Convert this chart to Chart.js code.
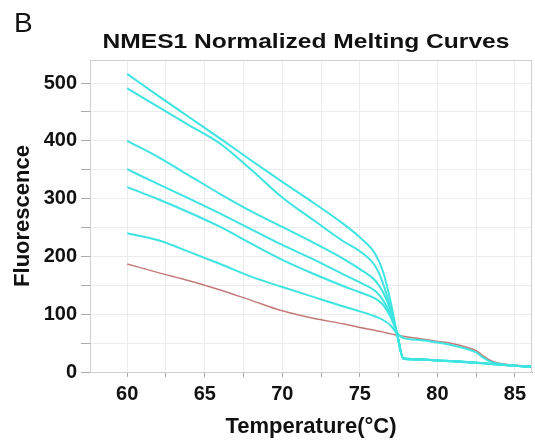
<!DOCTYPE html>
<html>
<head>
<meta charset="utf-8">
<script src="https://cdn.jsdelivr.net/npm/chart.js@4"></script>
<style>
  html, body { margin: 0; padding: 0; background: #fff; }
  #wrap { position: relative; width: 535px; height: 444px; }
  #panel { position: absolute; left: 14px; top: 7px; font: 28px "Liberation Sans", Arial, sans-serif; color: #111; }
  #title { position: absolute; left: 100px; top: 29px; width: 412px; text-align: center;
           font: bold 21px "Liberation Sans", Arial, sans-serif; color: #111; white-space: nowrap;
           transform: scaleX(1.17); transform-origin: 50% 50%; }
</style>
</head>
<body>
<div id="wrap">
  <div id="panel">B</div>
  <div id="title">NMES1 Normalized Melting Curves</div>
  <canvas id="chart" width="535" height="444"></canvas>
</div>
<script>
// temperatures (°C) shared by all curves
const temps = [60, 62, 64, 66, 68, 70, 72, 74, 75, 76, 76.5, 77, 77.4, 77.8, 79, 80, 81, 82, 82.5, 83, 83.5, 84, 85, 86.1];

// normalized fluorescence
const curve1 = [516, 478, 441, 404, 366, 329, 293, 255, 233, 204, 173, 120, 66, 24, 22, 20, 19, 17, 16, 15, 14, 13, 11, 9];
const curve2 = [491, 459, 427, 395, 350, 302, 263, 225, 209, 183, 153, 108, 66, 24, 22, 20, 19, 17, 16, 15, 14, 13, 11, 9];
const curve3 = [400, 372, 340, 308, 278, 251, 224, 195, 178, 158, 138, 105, 65, 23, 21, 20, 18, 17, 16, 15, 14, 13, 11, 9];
const curve4 = [351, 325, 300, 274, 247, 220, 195, 168, 155, 140, 124, 98, 65, 23, 21, 20, 18, 17, 16, 15, 14, 13, 11, 9];
const curve5 = [320, 299, 276, 251, 222, 194, 170, 148, 138, 127, 116, 94, 66, 24, 22, 20, 19, 17, 16, 15, 14, 13, 11, 9];
const curve6 = [240, 228, 208, 187, 165, 147, 130, 113, 105, 96, 90, 80, 67, 59, 55, 51, 46, 39, 34, 24, 17, 14, 11, 9];
const control = [187, 172, 158, 142, 124, 106, 93, 83, 77, 72, 69, 66, 64, 62, 57, 53, 49, 42, 37, 27, 19, 15, 12, 9];

const xTickLabels = [60, 65, 70, 75, 80, 85];
const yTickLabels = [0, 100, 200, 300, 400, 500];

const cyan = 'rgb(62, 228, 224)';
const rose = 'rgb(196, 122, 122)';

const toPoints = (vals) => temps.map((t, i) => ({ x: t, y: vals[i] }));
const cyanSet = (label, vals) => ({
  label, data: toPoints(vals), borderColor: cyan, borderWidth: 2,
  pointRadius: 0, cubicInterpolationMode: 'monotone', fill: false,
});

// thin grey frame around the plot area
const frame = {
  id: 'frame',
  afterDatasetsDraw(chart) {
    const { ctx, chartArea: a } = chart;
    ctx.save();
    ctx.strokeStyle = '#cfcfcf';
    ctx.lineWidth = 1;
    ctx.strokeRect(a.left + 0.5, a.top + 0.5, a.right - a.left - 1, a.bottom - a.top);
    ctx.restore();
  },
};

const tickFont = { family: '"Liberation Sans", Arial, sans-serif', size: 20, weight: 'bold' };

const ctx = document.getElementById('chart').getContext('2d');
new Chart(ctx, {
  type: 'line',
  data: {
    datasets: [
      cyanSet('1', curve1),
      cyanSet('2', curve2),
      cyanSet('3', curve3),
      cyanSet('4', curve4),
      cyanSet('5', curve5),
      cyanSet('6', curve6),
      {
        label: 'control', data: toPoints(control), borderColor: rose, borderWidth: 1.5,
        pointRadius: 0, cubicInterpolationMode: 'monotone', fill: false,
      },
    ],
  },
  options: {
    responsive: false,
    animation: false,
    layout: { padding: { top: 60, right: 3, left: 0, bottom: 0 } },
    plugins: { legend: { display: false }, tooltip: { enabled: false } },
    scales: {
      x: {
        type: 'linear',
        min: 57.6,
        max: 86.1,
        afterFit: (s) => { s.height = 72; },
        afterBuildTicks: (s) => { s.ticks = s.ticks.filter((t) => t.value >= s.min); },
        ticks: {
          stepSize: 2.5,
          includeBounds: false,
          maxRotation: 0,
          autoSkip: false,
          padding: 5,
          color: '#111',
          font: tickFont,
          callback: (v) => (xTickLabels.includes(v) ? String(v) : ''),
        },
        grid: { color: '#ececec', tickColor: '#aaa', tickLength: 5 },
        border: { color: '#999' },
        title: {
          display: true,
          text: 'Temperature(°C)',
          color: '#111',
          padding: { top: 0, bottom: 4 },
          font: { family: '"Liberation Sans", Arial, sans-serif', size: 22, weight: 'bold' },
        },
      },
      y: {
        min: 0,
        max: 540,
        afterFit: (s) => { s.width = 90; },
        ticks: {
          stepSize: 50,
          includeBounds: false,
          padding: 4,
          color: '#111',
          font: tickFont,
          callback: (v) => (yTickLabels.includes(v) ? String(v) : ''),
        },
        grid: { color: '#ececec', tickColor: '#aaa', tickLength: 9 },
        border: { color: '#999' },
        title: {
          display: true,
          text: 'Fluorescence',
          color: '#111',
          padding: { top: 10, bottom: 0 },
          font: { family: '"Liberation Sans", Arial, sans-serif', size: 22, weight: 'bold' },
        },
      },
    },
  },
  plugins: [frame],
});
</script>
</body>
</html>
